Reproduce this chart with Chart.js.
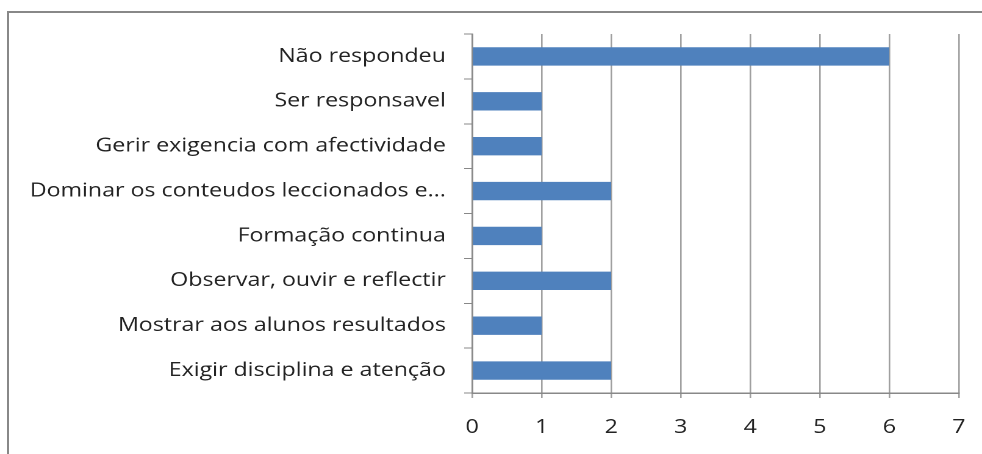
<!DOCTYPE html>
<html>
<head>
<meta charset="utf-8">
<script src="https://cdn.jsdelivr.net/npm/chart.js@4"></script>
<style>
  html, body { margin: 0; padding: 0; background: #fff; }
  #wrap { position: relative; width: 982px; height: 454px; overflow: hidden; }
  #frame { position: absolute; left: 7px; top: 11px; width: 1000px; height: 480px; border: 2px solid #888; box-sizing: border-box; }
  #chart { position: absolute; left: 0; top: 0; }
</style>
</head>
<body>
<div id="wrap">
  <div id="frame"></div>
  <canvas id="chart" width="805" height="454"></canvas>
</div>
<script>
const categories = [
  "Não respondeu",
  "Ser responsavel",
  "Gerir exigencia com afectividade",
  "Dominar os conteudos leccionados e...",
  "Formação continua",
  "Observar, ouvir e reflectir",
  "Mostrar aos alunos resultados",
  "Exigir disciplina e atenção"
];
const values = [6, 1, 1, 2, 1, 2, 1, 2];
const xTicks = [0, 1, 2, 3, 4, 5, 6, 7];

// the reference text looks stretched sideways, so the chart is drawn narrower and widened by CSS
const STRETCH = 1.22;
const font = { family: "'Open Sans', sans-serif", size: 19 };
const canvas = document.getElementById("chart");

new Chart(canvas, {
  type: "bar",
  data: {
    labels: categories,
    datasets: [{
      data: values,
      backgroundColor: "#4f81bd",
      barPercentage: 0.41,
      categoryPercentage: 1
    }]
  },
  options: {
    indexAxis: "y",
    responsive: false,
    animation: false,
    devicePixelRatio: 2,
    layout: { padding: { top: 34, right: 19 } },
    plugins: { legend: { display: false }, tooltip: { enabled: false } },
    scales: {
      x: {
        min: 0,
        max: 7,
        afterBuildTicks: (s) => { s.ticks = xTicks.map(v => ({ value: v })); },
        afterFit: (s) => { s.height = 61; s.paddingRight = 0; },
        grid: { color: "#a0a0a0", lineWidth: 1.3, tickLength: 5 },
        border: { color: "#888", width: 1.5 },
        ticks: { color: "#222", font, padding: 18 }
      },
      y: {
        afterFit: (s) => { s.width = 387; },
        grid: { drawOnChartArea: false, color: "#888", tickLength: 6.5, offset: true },
        border: { color: "#888", width: 1.3 },
        ticks: { color: "#222", font, padding: 15, autoSkip: false }
      }
    }
  }
});

canvas.style.width = 805 * STRETCH + "px";
canvas.style.height = "454px";
</script>
</body>
</html>
